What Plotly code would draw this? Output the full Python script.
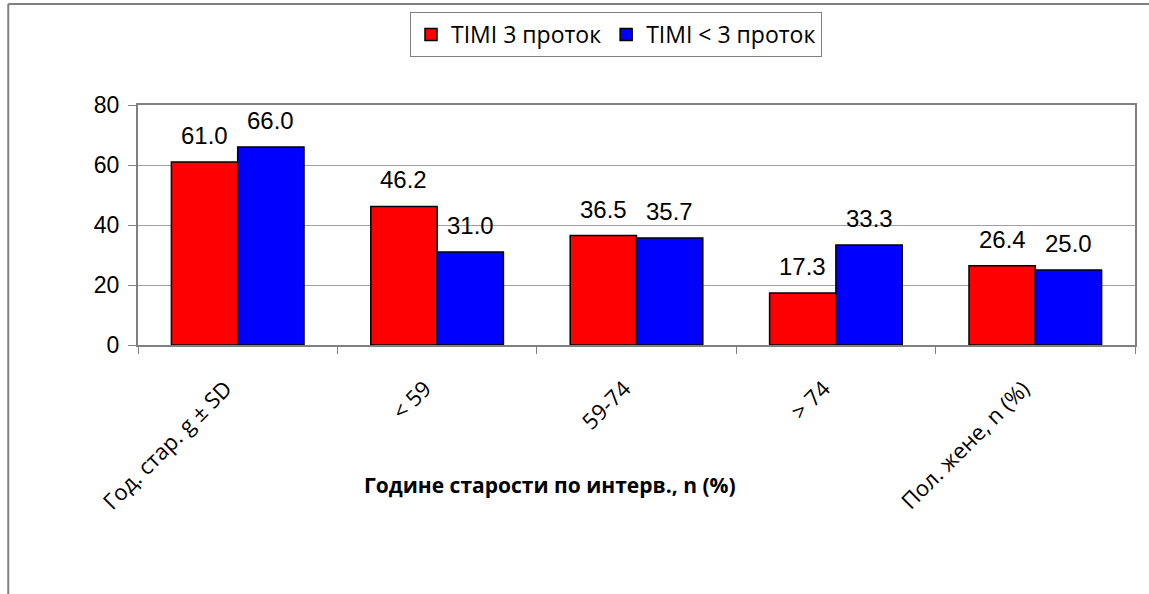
import plotly.graph_objects as go

categories = ["Год. стар. g ± SD", "< 59", "59-74", "> 74", "Пол. жене, n (%)"]
timi3 = [61.0, 46.2, 36.5, 17.3, 26.4]
timi_lt3 = [66.0, 31.0, 35.7, 33.3, 25.0]
series_names = ["TIMI 3 проток", "TIMI < 3 проток"]
y_ticks = [0, 20, 40, 60, 80]
x_title = "Године старости по интерв., n (%)"

W, H = 1149, 594
L, R, T, B = 138, 12, 105, 249
plot_w = W - L - R
plot_h = H - T - B
bar_px = plot_w / len(categories) * (1 - 0.335) / 2

fig = go.Figure()
for i, (name, vals, color) in enumerate([(series_names[0], timi3, "#ff0000"),
                                         (series_names[1], timi_lt3, "#0000ff")]):
    fig.add_trace(go.Bar(
        x=categories, y=vals, name=name,
        marker=dict(color=color, line=dict(color="black", width=1.5)),
    ))
    shift = (-0.5 if i == 0 else 0.5) * bar_px
    for c, v in zip(categories, vals):
        fig.add_annotation(x=c, y=v, text=f"{v:.1f}", showarrow=False, xshift=shift, yshift=11,
                           yanchor="bottom", xanchor="center",
                           font=dict(family="Arial", size=24, color="black"))

def px_to_paper_x(px):
    return (px - L) / plot_w

def px_to_paper_y(py):
    return (H - B - py) / plot_h

fig.update_layout(
    width=W, height=H,
    margin=dict(l=L, r=R, t=T, b=B),
    paper_bgcolor="white", plot_bgcolor="white",
    barmode="group", bargap=0.335, bargroupgap=0,
    showlegend=True,
    legend=dict(orientation="h", x=616 / W, xref="container", xanchor="center",
                y=1 - 12 / H, yref="container", yanchor="top",
                font=dict(family="Open Sans", size=23, color="black"),
                bordercolor="#808080", borderwidth=1, bgcolor="white",
                traceorder="normal", itemwidth=30),
    xaxis=dict(type="category", tickson="boundaries", ticks="outside", ticklen=7, tickcolor="#808080",
               tickangle=-45, tickfont=dict(family="Open Sans", size=22, color="black"),
               ticklabelstandoff=8,
               tickvals=categories, ticktext=[c + "\u00a0\u00a0\u00a0" for c in categories],
               showline=True, linecolor="#808080", linewidth=2, mirror=True, showgrid=False),
    yaxis=dict(range=[0, 80], tickvals=y_ticks, ticks="outside", ticklen=8, tickcolor="#808080",
               tickfont=dict(family="Arial", size=23, color="black"),
               ticklabelstandoff=4,
               showline=True, linecolor="#808080", linewidth=2, mirror=True,
               showgrid=True, gridcolor="#a0a0a0", gridwidth=1, zeroline=False),
)

fig.add_annotation(text=f"<b>{x_title}</b>", xref="paper", yref="paper",
                   x=px_to_paper_x(551), y=px_to_paper_y(485),
                   showarrow=False, font=dict(family="Open Sans", size=21, color="black"),
                   xanchor="center", yanchor="middle")

# outer chart border (left and top visible)
fig.add_shape(type="line", xref="paper", yref="paper",
              x0=px_to_paper_x(8), x1=px_to_paper_x(W + 5), y0=px_to_paper_y(4), y1=px_to_paper_y(4),
              line=dict(color="#808080", width=2))
fig.add_shape(type="line", xref="paper", yref="paper",
              x0=px_to_paper_x(8), x1=px_to_paper_x(8), y0=px_to_paper_y(4), y1=px_to_paper_y(H + 5),
              line=dict(color="#808080", width=2))

fig.write_html("out.html", config={"displayModeBar": False},
               post_script="document.body.style.margin='0';")
